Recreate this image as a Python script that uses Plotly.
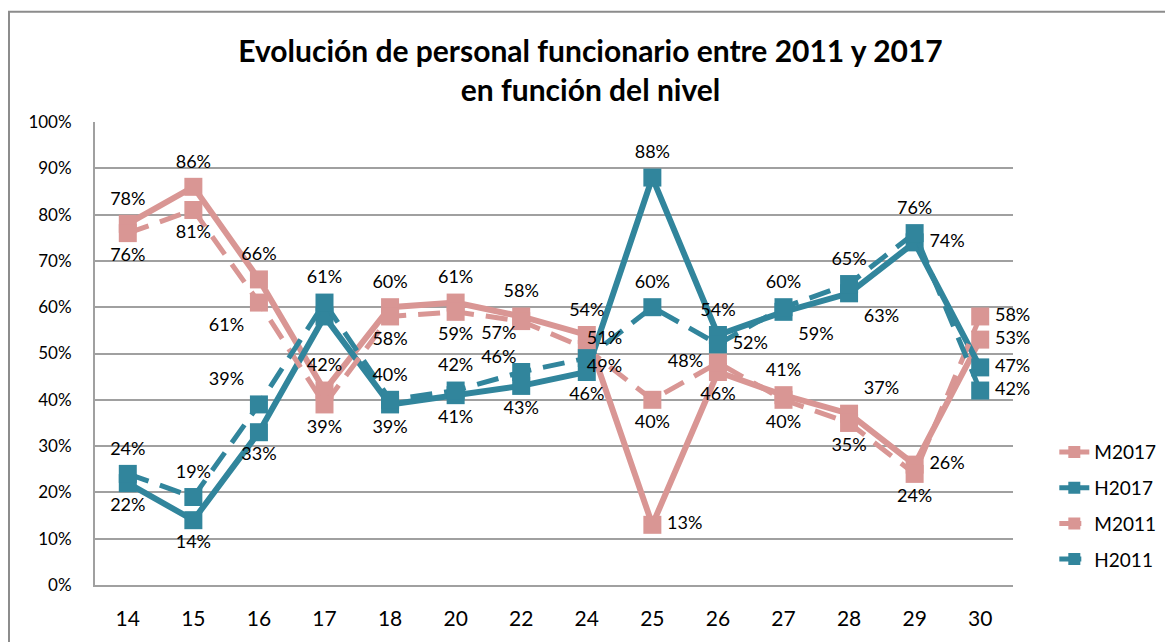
"""Evolución de personal funcionario 2011-2017 por nivel — line chart."""

import plotly.graph_objects as go

# ------------------------------------------------------------------
# Data (percent values)
# ------------------------------------------------------------------
niveles = ["14", "15", "16", "17", "18", "20", "22", "24", "25", "26", "27", "28", "29", "30"]
m2017 = [78, 86, 66, 42, 60, 61, 58, 54, 13, 46, 41, 37, 26, 53]
h2017 = [22, 14, 33, 58, 39, 41, 43, 46, 88, 54, 59, 63, 74, 47]
m2011 = [76, 81, 61, 39, 58, 59, 57, 51, 40, 48, 40, 35, 24, 58]
h2011 = [24, 19, 39, 61, 40, 42, 46, 49, 60, 52, 60, 65, 76, 42]
y_ticks = [0, 10, 20, 30, 40, 50, 60, 70, 80, 90, 100]

# Labels hidden in the reference (covered by other marks)
hidden = {"H2017": [3]}

# ------------------------------------------------------------------
# Styling
# ------------------------------------------------------------------
PINK = "#D99694"
BLUE = "#31859C"
GRID = "#A0A0A0"
FONT = "Lato, 'Open Sans', sans-serif"

TC, BC, TL, BL, TR, BR, MR, ML = (
    "top center", "bottom center", "top left", "bottom left",
    "top right", "bottom right", "middle right", "middle left",
)

label_pos = {
    "M2017": [TC, TC, TC, TC, TC, TC, TC, TC, MR, BC, TC, TR, MR, MR],
    "H2017": [BC, BC, BC, BC, BC, BC, BC, BC, TC, TC, BR, BR, MR, MR],
    "M2011": [BC, BC, BL, BC, BC, BC, BL, TR, BC, ML, BC, BC, BC, MR],
    "H2011": [TC, TC, TL, TC, TC, TC, TL, BR, TC, MR, TC, TC, TC, MR],
}

# distance of the label from its point (invisible marker size), tighter where crowded
DEFAULT_GAP = 22
label_gap = {
    "M2011": {6: 6, 7: 0},
    "H2011": {6: 6, 7: 0},
}

series = [
    ("M2017", m2017, PINK, "solid", 6),
    ("H2017", h2017, BLUE, "solid", 6),
    ("M2011", m2011, PINK, "22px,12px", 5),
    ("H2011", h2011, BLUE, "22px,12px", 5),
]

fig = go.Figure()

for name, values, color, dash, width in series:
    fig.add_trace(
        go.Scatter(
            x=niveles,
            y=[v / 100 for v in values],
            name=name,
            mode="lines+markers",
            line=dict(color=color, width=width, dash=dash),
            marker=dict(symbol="square", size=18, color=color),
            legendgroup=name,
            hoverinfo="skip",
        )
    )

# Data labels on top of all lines
for name, values, color, dash, width in series:
    skip = hidden.get(name, [])
    texts = ["" if i in skip else f"{v}%" for i, v in enumerate(values)]
    gaps = [label_gap.get(name, {}).get(i, DEFAULT_GAP) for i in range(len(values))]
    fig.add_trace(
        go.Scatter(
            x=niveles,
            y=[v / 100 for v in values],
            mode="markers+text",
            text=texts,
            textposition=label_pos[name],
            textfont=dict(family=FONT, size=18, color="#000000"),
            marker=dict(size=gaps, opacity=0),
            cliponaxis=False,
            showlegend=False,
            hoverinfo="skip",
        )
    )

fig.update_layout(
    width=1165,
    height=634,
    margin=dict(l=87, r=160, t=114, b=54),
    paper_bgcolor="white",
    plot_bgcolor="white",
    font=dict(family=FONT, size=17, color="#000000"),
    title=dict(
        text="<b>Evolución de personal funcionario entre 2011 y 2017<br>en función del nivel</b>",
        x=0.5,
        xanchor="center",
        y=0.915,
        yanchor="top",
        font=dict(family=FONT, size=30, color="#000000"),
    ),
    legend=dict(
        x=1.045,
        xanchor="left",
        y=0.328,
        yanchor="top",
        font=dict(family=FONT, size=19),
        traceorder="grouped",
        tracegroupgap=8,
        itemsizing="constant",
        bgcolor="rgba(0,0,0,0)",
    ),
    xaxis=dict(
        type="category",
        range=[-0.5, len(niveles) - 0.5],
        showgrid=False,
        showline=True,
        linecolor=GRID,
        linewidth=2,
        ticks="",
        tickfont=dict(family=FONT, size=21),
        ticklabelstandoff=14,
        fixedrange=True,
    ),
    yaxis=dict(
        range=[0, 1],
        tickvals=[t / 100 for t in y_ticks],
        ticktext=[f"{t}%" for t in y_ticks],
        showgrid=True,
        gridcolor=GRID,
        gridwidth=2,
        showline=True,
        linecolor=GRID,
        linewidth=2,
        zeroline=False,
        ticks="",
        tickfont=dict(family=FONT, size=17),
        ticklabelstandoff=18,
        fixedrange=True,
    ),
    shapes=[
        dict(
            type="rect",
            xref="paper",
            yref="paper",
            x0=-0.0937,
            x1=1.25,
            y0=-0.3,
            y1=1.238,
            line=dict(color="#8C8C8C", width=2),
            fillcolor="rgba(0,0,0,0)",
            layer="below",
        )
    ],
)

fig.write_html("out.html")
